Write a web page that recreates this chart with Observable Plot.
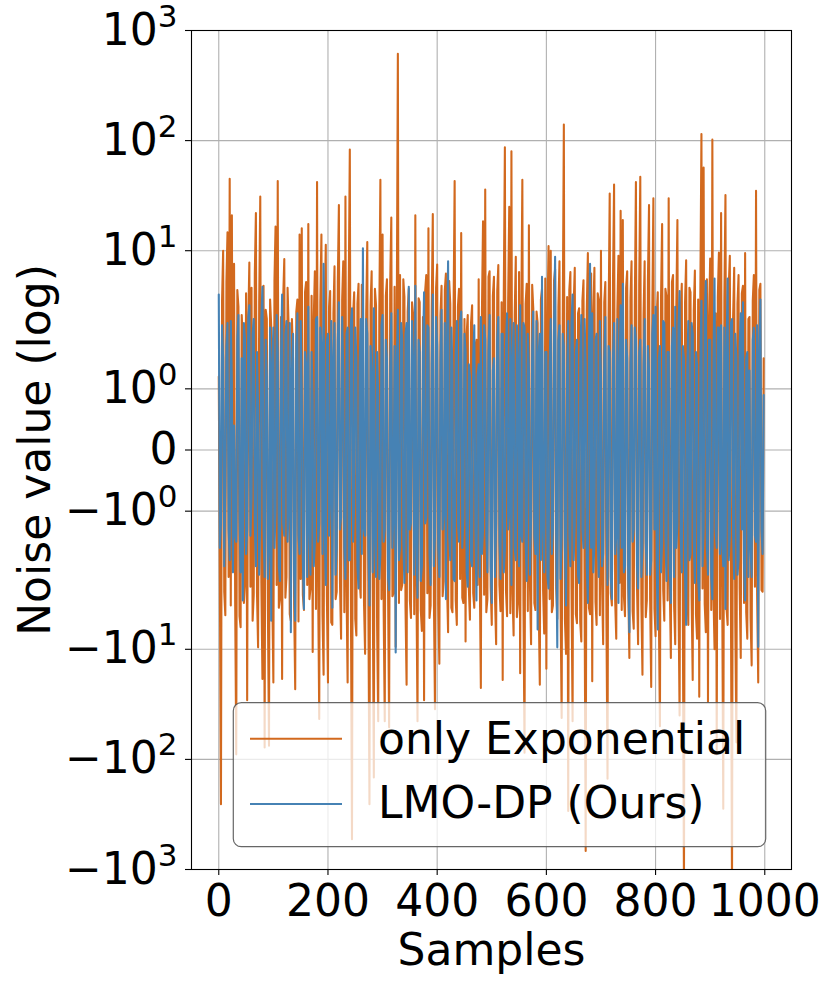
<!DOCTYPE html>
<html>
<head>
<meta charset="utf-8">
<script src="https://cdn.jsdelivr.net/npm/d3@7"></script>
<script src="https://cdn.jsdelivr.net/npm/@observablehq/plot@0.6"></script>
<style>
  html, body { margin: 0; padding: 0; background: white; }
  #chart { position: relative; width: 831px; height: 988px; }
</style>
</head>
<body>
<div id="chart"></div>
<script>
// ---- data (one reading every 2 samples) ----
const sampleIndex = d3.range(0, 1000, 2);

const onlyExponential = [
  1.2, -2.4, -255, 3.5, 10, -3, -4.9, 5.2, 14.7, -2.2, 45, -4, 21, -1.8, 7.6, -3.6, -90, 4.4, 3.1, -5,
  -6.3, 2.6, 1.8, -3.8, -2.5, 4.1, -29, 2.2, 7.8, -2.7, 4.6, -5.5, -3.2, 6.1, 22, -3.1, -9.6, 3.3, 31, -2.5,
  -18.6, 4.8, -78, 2.9, 2.4, -4.5, -75, 3.6, 2.1, -3.3, -20, 5.4, 16.6, -2.6, 43, -4.2, -3.5, 2.5, -18.6, 3.7,
  8.4, -3.4, -2.2, 4.6, 2, -4.8, -5.5, 2.4, 1.5, -3.9, -23, 2.8, 3.6, -5.6, 14, -2.3, 16, -3.2, -4.4, 4.2,
  5.2, -2.6, 17.5, -3.5, -2.8, 3.9, -10.6, 2.5, 6.5, -4.3, 42, -2.7, -43, 3.4, 14, -4.9, -17, 2.9, 11.3, -3.3,
  -20, 3.1, 4.3, -5.7, -6, 2.7, 7.2, -3.5, -3, 5.2, 26, -2.5, -8, 3.6, 8, -4.6, 31, -2.9, -20, 4.4,
  83, -3.6, -531, 2.6, 4.2, -5.3, -7.5, 3.3, 5, -2.4, -3.4, 4.9, 2.8, -3.8, -11, 2.7, 12, -4.1, -255, 3.2,
  6.5, -2.8, -146, 4.5, 3.2, -6.2, -45, 2.6, 44, -3.5, 14, -4.5, -45, 3.9, 5.5, -2.6, -51, 5.1, 20, -3.3,
  -3.1, 4.7, -9.5, 2.4, 614, -3.8, 6, -2.9, -2.6, 5.5, 3.8, -4.1, -21, 2.8, 4.5, -3.6, -5.2, 3.4, 2.6, -4.8,
  21, -2.7, -45, 3.7, 3.4, -4.4, -6.8, 2.5, -29, 4.3, 6, -3.1, 16, -5.2, -4, 2.9, 21.5, -3.4, -35, 4.6,
  7.5, -3.9, -13.5, 2.6, 4.8, -3.3, -2.4, 4.4, 6.2, -2.5, -7, 5.3, 3.3, -4.2, -4.6, 2.8, 43, -3.6, -6, 3.1,
  4.5, -2.3, 14.5, -3.4, -3.8, 2.4, -8.5, 1.9, 2.6, -2.8, -5.4, 2.2, 3.2, -3.1, -4.2, 1.7, 1.8, -2.6, 5.5, -2.1,
  -22.5, 2.8, 18.5, -3.2, 36, -4.6, -3.5, 5.8, 6.5, -2.7, -6, 3.9, 5.8, -3.5, -9, 4.3, 7.4, -2.6, -4.5, 3.4,
  -19, 4.1, 87, -2.9, -5, 3.5, 25, -4.7, 80, -3.1, -7.5, 2.6, 8.8, -5.1, -3.8, 6.4, -16.5, 2.4, 44, -3.6,
  -87, 3.3, 5, -4.5, 17, -2.7, -9, 4.9, 3, -3.8, -4.4, 2.8, 2.2, -4.1, -21, 3.6, 4.5, -2.9, -7.2, 5.6,
  -15, 2.6, 11, -3.5, 10, -4.6, -4, 5.3, 6.8, -2.8, -5.3, 3.1, 8, -3.9, -42, 2.4, 140, -5.4, -11, 3.8,
  -294, 4.4, 6.4, -2.6, -45, 3.2, 7, -4.8, -5.8, 2.7, 3, -5.6, -8.5, 3.5, 5.4, -3.3, -678, 2.9, 9.5, -4.2,
  -4.8, 6.2, -19.5, 2.8, 7, -3.7, -6, 4.1, 3.6, -4.9, 10, -2.6, -9, 3.4, 5.2, -5.2, -150, 2.5, 33, -3.1,
  -4, 5.1, 40, -3.6, -8, 2.9, 9, -2.5, 23, -4.4, 19, -3.3, -5, 4.6, 6.5, -2.8, -12, 3.7, 8, -4.5,
  -6.5, 3.2, 42, -2.7, -9, 4.8, 47, -3.9, -17, 2.6, 8, -5.1, -3.6, 5.4, 26, -3.4, -22, 2.8, 30, -4.3,
  -7.6, 2.5, 4.2, -4.7, -50, 3.8, 17.5, -2.9, -5.5, 4.5, 3.8, -3.6, 30, -2.6, -12, 5.2, 6, -4.1, -9, 3.1,
  19, -3.5, -40, 2.7, 5, -5.8, -1500, 3.4, 8.2, -2.6, -6, 4.6, 4.2, -3.3, -19, 2.9, 6.6, -4.8, -8, 3.6,
  -27, 4.2, 115, -2.8, 57, -3.9, -7, 5.5, -30, 2.6, 8.5, -4.4, 102, -3.1, -10, 2.7, -90, 3.8, 9.6, -5.3,
  22, -2.6, -280, 3.6, 32, -4.3, -6, 4.7, 9, -3.4, -1500, 2.5, 7, -5.6, -70, 3.3, 6, -2.8, -12, 4.1,
  4.8, -3.8, 9.5, -4.6, -8, 2.4, 2.5, -5.2, -14, 3.5, 6, -2.7, 35, -3.2, -20, 4.4, 5, -2.9, -3, 1.5
];

const lmoDP = [
  4, -1.6, -1.2, 2.1, 1.5, -1.9, -0.6, 1.7, 2.2, -1.3, -1.8, 2.3, 1.1, -2.0, 0.4, -1.4, -1.5, 1.8, 2.6, -1.1,
  -2.0, 1.5, -3.6, 2.2, 1.8, -1.7, -1.3, 2.5, 3.2, -1.4, -0.8, 1.9, 2.4, -1.2, -1.9, 1.6, 0.7, -2.1, -1.1, 2.4,
  4.7, -1.3, -2.2, 1.8, 1.2, -2.3, -1.6, 2.0, -5.5, 1.4, 2.0, -1.6, -1.0, 2.6, 1.6, -1.9, -2.4, 1.5, 4.0, -1.2,
  -1.4, 1.9, 2.3, -1.5, -0.9, 2.2, -7.0, 1.3, 1.9, -2.0, -5.5, 1.7, 2.7, -1.4, -1.7, 2.3, 1.0, -1.8, -4.3, 1.6,
  1.4, -2.2, 3.1, -1.3, -2.1, 1.6, 0.8, -1.9, -1.5, 2.4, 2.5, -1.5, -1.2, 2.0, 1.7, -1.7, 7.6, -1.2, -2.6, 1.8,
  1.9, -1.4, -0.7, 2.3, -4.2, 1.5, 2.2, -2.1, -1.6, 1.8, 3.4, -1.3, -1.1, 2.5, 1.3, -1.6, -2.3, 1.9, 2.0, -1.8,
  -1.8, 2.2, 3.0, -1.5, -0.9, 2.0, 1.5, -1.9, -2.8, 1.4, 2.4, -1.7, 10.5, -1.3, -1.4, 2.4, 1.9, -1.6, -4.0, 1.7,
  1.2, -2.0, 3.0, -1.4, -2.2, 1.6, 0.9, -2.3, -1.7, 2.1, 2.6, -1.5, -1.3, 1.8, 1.5, -2.2, -2.9, 1.3, 2.7, -1.6,
  -1.0, 1.7, -10.7, 1.4, 2.9, -1.8, -1.6, 2.2, 1.8, -1.5, -2.5, 1.9, 2.2, -2.0, 4.7, -1.3, -1.2, 2.3, 1.4, -2.1,
  4.8, -1.5, -3.4, 1.8, 1.6, -2.4, -1.9, 1.6, 4.2, -1.2, -1.1, 2.1, 2.0, -1.7, -2.6, 1.4, 4.0, -1.9, -1.4, 2.5,
  1.7, -1.6, -2.2, 1.5, 2.9, -1.3, -1.0, 2.2, -3.5, 1.7, 8.0, -1.4, -1.8, 2.0, 1.3, -2.3, -2.4, 1.6, 2.3, -1.2,
  -1.5, 2.3, 2.8, -1.6, -1.1, 1.9, 1.6, -2.0, -2.7, 1.4, 1.2, -1.8, -1.9, 1.5, 2.1, -1.3, -3.6, 1.2, 1.4, -2.2,
  2.5, -1.7, -1.3, 2.1, 1.8, -1.4, -2.0, 1.6, 2.6, -1.9, -3.8, 1.3, 1.5, -2.2, -1.2, 1.8, 2.5, -1.5, -2.3, 1.9,
  1.9, -2.0, -1.6, 1.7, 2.7, -1.3, -1.0, 2.4, -2.6, 1.5, 2.2, -1.6, -1.8, 2.1, 1.4, -1.9, 3.2, -1.4, -1.5, 2.2,
  2.0, -1.5, -2.4, 1.9, 1.3, -2.1, -1.1, 1.7, 2.8, -1.4, -1.7, 2.3, -6.6, 1.6, 1.9, -1.8, 5.8, -1.3, -2.0, 1.6,
  1.6, -2.2, -2.8, 1.4, 2.4, -1.7, -1.3, 2.0, 8.8, -1.5, -9.6, 1.8, 2.1, -2.3, -1.4, 1.9, 1.7, -1.6, -4.0, 1.3,
  2.3, -1.4, -1.9, 2.2, 4.0, -1.8, -1.2, 1.6, 1.8, -2.1, -2.5, 1.5, 2.6, -1.3, -1.6, 2.4, 1.4, -1.9, -3.8, 1.7,
  7.6, -1.6, 2.7, -2.0, -1.5, 1.8, 1.9, -1.4, -2.2, 2.3, 1.2, -1.9, -1.7, 1.5, 2.5, -1.2, -2.6, 1.7, 1.6, -2.2,
  -3.5, 1.5, 2.2, -1.7, -1.4, 2.4, -3.8, 1.3, 3.2, -1.6, 5.0, -2.0, -1.9, 1.8, 1.5, -2.3, -7.0, 1.4, 2.1, -1.5,
  -1.3, 2.0, 1.8, -1.9, -2.8, 1.6, 1.8, -2.2, -1.6, 1.4, 2.4, -1.5, -2.1, 1.7, 1.3, -2.1, -1.8, 1.9, 2.6, -1.3,
  3.1, -1.8, -6.6, 1.5, 1.7, -2.0, -1.5, 2.3, 2.2, -1.4, -2.4, 1.6, 1.6, -1.9, -3.8, 1.7, 2.0, -2.2, 3.1, -1.6,
  -1.2, 2.1, 4.3, -1.4, -2.0, 1.7, 1.5, -2.0, -6.0, 1.3, 2.3, -1.8, -1.7, 2.2, 1.9, -1.5, -2.5, 1.6, 1.4, -2.3,
  -3.6, 1.4, 3.5, -1.9, -1.3, 2.3, 5.3, -1.6, -2.1, 1.8, 1.8, -2.2, -3.5, 1.5, 5.6, -1.3, -1.6, 2.0, 2.0, -1.7,
  2.1, -1.5, -1.9, 2.0, -4.3, 1.6, 5.6, -1.8, -1.4, 2.2, 2.4, -1.4, -2.3, 1.9, 1.5, -2.1, -1.8, 1.7, 2.7, -1.3,
  3.4, -1.9, -3.6, 1.5, 1.6, -2.2, 1.3, -1.6, -2.2, 1.8, 2.0, -1.4, -1.5, 2.1, -9.5, 1.6, 3.6, -1.3, -1.7, 0.9
];

const seriesNames = ["only Exponential", "LMO-DP (Ours)"];
const seriesColors = ["#D2691E", "#4682B4"];

const xTickValues = [0, 200, 400, 600, 800, 1000];
const yTickValues = [-1000, -100, -10, -1, 0, 1, 10, 100, 1000];
const yTickLabels = ["−10^3", "−10^2", "−10^1", "−10^0", "0", "10^0", "10^1", "10^2", "10^3"];

// ---- symmetric log transform (linthresh 2, linscale 1, base 10) ----
const linthresh = 2, linscaleAdj = 1 / (1 - 1 / 10);
function symlog(v) {
  const a = Math.abs(v);
  const t = a <= linthresh ? (a / linthresh) * linscaleAdj : linscaleAdj + Math.log10(a / linthresh);
  return Math.sign(v) * t;
}

const rows = [];
seriesNames.forEach((name, s) => {
  const vals = s === 0 ? onlyExponential : lmoDP;
  vals.forEach((v, i) => rows.push({series: name, x: sampleIndex[i], v}));
});
const rowsOf = name => rows.filter(r => r.series === name);

const yTicksT = yTickValues.map(symlog);
const labelMap = new Map(yTicksT.map((t, i) => [t.toFixed(6), yTickLabels[i]]));

const FS = 44;
const gridStyle = {stroke: "#b0b0b0", strokeOpacity: 1, strokeWidth: 1.1};

const chart = Plot.plot({
  width: 831,
  height: 988,
  marginLeft: 191,
  marginRight: 40,
  marginTop: 30,
  marginBottom: 119,
  style: {fontFamily: "DejaVu Sans", fontSize: FS + "px", background: "white", color: "black", overflow: "visible"},
  x: {domain: [-49.95, 1048.95]},
  y: {domain: [symlog(-1000), symlog(1000)]},
  marks: [
    Plot.gridY(yTicksT, gridStyle),
    Plot.gridX(xTickValues, gridStyle),
    Plot.line(rowsOf(seriesNames[0]), {x: "x", y: d => symlog(d.v), stroke: seriesColors[0], strokeWidth: 2.08, clip: true}),
    Plot.line(rowsOf(seriesNames[1]), {x: "x", y: d => symlog(d.v), stroke: seriesColors[1], strokeWidth: 2.08, clip: true}),
    Plot.frame({stroke: "black", strokeWidth: 1.1}),
    Plot.axisY(yTicksT, {tickSize: 6, tickPadding: 8, strokeWidth: 1.1, label: null, fontSize: FS,
      tickFormat: t => labelMap.get(t.toFixed(6))}),
    Plot.axisX(xTickValues, {tickSize: 6, tickPadding: 9, strokeWidth: 1.1, label: null, fontSize: FS,
      tickFormat: d => String(d)}),
    Plot.text(["Samples"], {frameAnchor: "bottom", textAnchor: "middle", lineAnchor: "middle", dy: 81, fontSize: FS, fill: "black"}),
    Plot.text(["Noise value (log)"], {frameAnchor: "left", textAnchor: "middle", lineAnchor: "middle", rotate: -90, dx: -156, fontSize: FS, fill: "black"})
  ]
});

// superscripts for y tick labels (mathtext-like)
chart.querySelectorAll('g[aria-label="y-axis tick label"] text').forEach(el => {
  const s = el.textContent;
  if (s.includes("^")) {
    const [base, exp] = s.split("^");
    el.textContent = base;
    const ts = document.createElementNS("http://www.w3.org/2000/svg", "tspan");
    ts.setAttribute("font-size", "31");
    ts.setAttribute("dy", "-18");
    ts.textContent = exp;
    el.appendChild(ts);
  }
});

// legend (drawn over the lines, semi-transparent white like matplotlib)
const svg = d3.select(chart);
const lg = svg.append("g").attr("aria-label", "legend");
lg.append("rect")
  .attr("x", 233.3).attr("y", 702.7).attr("width", 532.4).attr("height", 144)
  .attr("rx", 8).attr("ry", 8)
  .attr("fill", "white").attr("fill-opacity", 0.75)
  .attr("stroke", "#555").attr("stroke-opacity", 0.9).attr("stroke-width", 1.2);
const legendRows = [{y: 738.7, base: 753.5}, {y: 804, base: 818}];
seriesNames.forEach((name, i) => {
  lg.append("line")
    .attr("x1", 250).attr("x2", 342).attr("y1", legendRows[i].y).attr("y2", legendRows[i].y)
    .attr("stroke", seriesColors[i]).attr("stroke-width", 2.08);
  lg.append("text")
    .attr("x", 378).attr("y", legendRows[i].base)
    .attr("text-anchor", "start")
    .attr("font-family", "DejaVu Sans").attr("font-size", FS).attr("fill", "black")
    .text(name);
});

document.getElementById("chart").appendChild(chart);
</script>
</body>
</html>
